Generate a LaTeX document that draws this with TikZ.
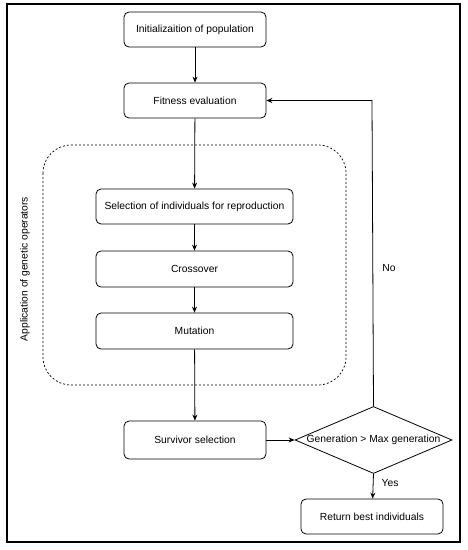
\documentclass[tikz,border=0pt]{standalone}
\usepackage{fontspec}
\setmainfont{Liberation Sans}
\usetikzlibrary{arrows.meta,shapes.geometric}
\begin{document}
\begin{tikzpicture}[x=1pt,y=-1pt,
  every node/.style={font=\fontsize{10.3}{12}\selectfont},
  box/.style={draw,rounded corners=5pt,line width=0.8pt,minimum height=35pt,align=center,inner sep=0pt},
  arr/.style={-{Stealth[length=6pt,width=5pt]},line width=0.8pt},
  ln/.style={line width=0.8pt}]
\useasboundingbox (0,0) rectangle (467,550);
\draw[line width=1.4pt] (7,4) rectangle (460,542);
\draw[dash pattern=on 2pt off 2pt,line width=0.7pt,rounded corners=28pt] (43,145) rectangle (346,385);
\node[box,minimum width=142pt,minimum height=35pt] (init) at (195,29.5) {Initializaition of population};
\node[box,minimum width=142pt] (fit) at (195,100.5) {Fitness evaluation};
\node[box,minimum width=197pt] (sel) at (194.5,206.5) {Selection of individuals for reproduction};
\node[box,minimum width=197pt,minimum height=36pt] (cross) at (194.5,269) {Crossover};
\node[box,minimum width=197pt,minimum height=36pt] (mut) at (194.5,331) {Mutation};
\node[box,minimum width=142pt,minimum height=38pt] (surv) at (195,440) {Survivor selection};
\node[draw,diamond,aspect=2.35,line width=0.8pt,inner sep=0pt,minimum width=157pt,minimum height=67pt] (dec) at (373.5,440) {};
\node at (373.5,440) {Generation > Max generation};
\node[box,minimum width=142pt,minimum height=35pt] (ret) at (372,516.5) {Return best individuals};
\node[rotate=90] (app) at (25,269) {Application of genetic operators};
\node (no) at (389,268) {No};
\node (yes) at (390,483) {Yes};
\draw[arr] (init) -- (fit);
\draw[arr] (fit) -- (sel);
\draw[arr] (sel) -- (cross);
\draw[arr] (cross) -- (mut);
\draw[arr] (mut) -- (surv);
\draw[arr] (surv) -- (dec.west);
\draw[arr] (dec.north) -- (372,100.5) -- (fit.east);
\draw[arr] (dec.south) -- (ret);
\end{tikzpicture}
\end{document}
